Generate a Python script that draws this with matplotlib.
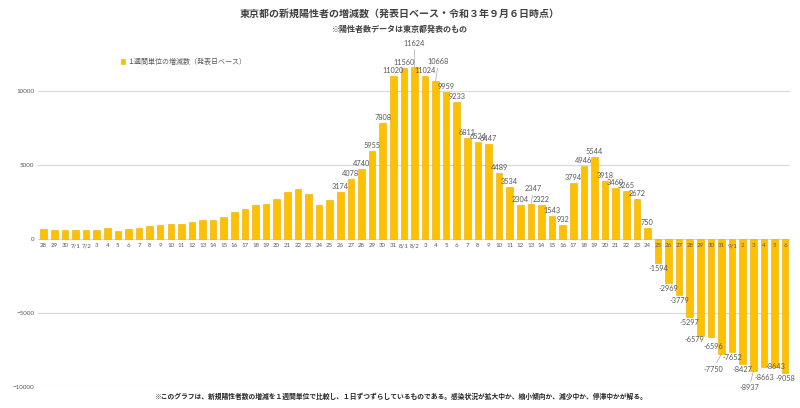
import numpy as np
import matplotlib
matplotlib.use("Agg")
import matplotlib.pyplot as plt

plt.rcParams['font.family'] = ['Lato', 'Noto Sans CJK JP', 'DejaVu Sans']

# day labels on the x axis (6/28 .. 9/6)
days = (["28", "29", "30", "7/1", "7/2"] + [str(d) for d in range(3, 32)]
        + ["8/1", "8/2"] + [str(d) for d in range(3, 32)]
        + ["9/1"] + [str(d) for d in range(2, 7)])

# weekly change of new positive cases (published-date basis)
values = [700, 630, 585, 585, 585, 630, 740, 540, 675, 765,
          880, 945, 1010, 990, 1150, 1260, 1280, 1490, 1800, 2000,
          2300, 2360, 2680, 3150, 3400, 3020, 2280, 2660, 3174, 4078,
          4740, 5955, 7808, 11020, 11560, 11624, 11024, 10668, 9959, 9233,
          6811, 6524, 6447, 4489, 3534, 2304, 2347, 2322, 1543, 932,
          3794, 4946, 5544, 3918, 3460, 3265, 2672, 750, -1594, -2969,
          -3779, -5297, -6579, -6596, -7750, -7652, -8427, -8937, -8663, -8643,
          -9058]
first_labeled = 28  # value labels start at 7/26
yticks = [-10000, -5000, 0, 5000, 10000]

title = "東京都の新規陽性者の増減数（発表日ベース・令和３年９月６日時点）"
subtitle = "※陽性者数データは東京都発表のもの"
series_name = "１週間単位の増減数（発表日ベース）"
footnote = ("※このグラフは、新規陽性者数の増減を１週間単位で比較し、１日ずつずらしているものである。"
            "感染状況が拡大中か、縮小傾向か、減少中か、停滞中かが解る。")

bar_color = "#FFC000"
text_color = "#595959"
cjk = ['Noto Sans CJK JP', 'DejaVu Sans']

fig = plt.figure(figsize=(8, 4.08), dpi=100)
ax = fig.add_axes([0.048, 0.0515, 0.94, 0.816])

# gridlines drawn by hand so the axis (tick labels) stays above the bars
for yv in yticks:
    ax.axhline(yv, color="#D9D9D9", linewidth=0.8, zorder=0)

x = np.arange(len(values))
bars = ax.bar(x, values, width=0.62, color=bar_color, edgecolor="#E8AE00",
              linewidth=0.4, label=series_name, zorder=1)

ax.set_xlim(-0.5, len(values) - 0.5)
ax.set_ylim(-10000, 12500)
ax.set_yticks(yticks)
for s in ax.spines.values():
    s.set_visible(False)
ax.spines['bottom'].set_position(('data', 0))
ax.set_xticks(x)
ax.set_xticklabels(days, fontsize=4.4, color=text_color)
ax.tick_params(axis='both', length=0)
ax.tick_params(axis='x', pad=3)
ax.tick_params(axis='y', labelsize=4.5, labelcolor=text_color, pad=3)

# value labels; a few are moved (some with a leader line) like in the original
leader = {35: (0, 13), 37: (2, 10), 46: (2, 7), 64: (-6, -7), 67: (-3, -8)}
shift = {62: (-4, 1.5), 63: (2, -3), 68: (0, -3.5), 69: (1, 4)}
for i in range(first_labeled, len(values)):
    v = values[i]
    dx, dy = leader.get(i, shift.get(i, (0, 0)))
    base = 1.5 if v > 0 else -1.5
    kw = {}
    if i in leader:
        kw['arrowprops'] = dict(arrowstyle='-', color="#A6A6A6", lw=0.5,
                                shrinkA=0, shrinkB=0)
    ax.annotate(str(v), xy=(i, v), xytext=(dx, base + dy),
                textcoords='offset points', ha='center',
                va='bottom' if v > 0 else 'top', fontsize=5.3,
                color=text_color, annotation_clip=False, zorder=6, **kw)

fig.text(0.5, 0.965, title, ha='center', va='center', fontsize=7.2,
         fontweight='bold', color="#404040", family=cjk)
fig.text(0.5, 0.928, subtitle, ha='center', va='center', fontsize=5.8,
         fontweight='bold', color="#404040", family=cjk)
fig.text(0.5, 0.028, footnote, ha='center', va='center', fontsize=4.9,
         fontweight='bold', color="#262626", family=cjk)

leg = fig.legend(handles=[bars], labels=[series_name], loc='center left',
                 bbox_to_anchor=(0.143, 0.848), frameon=False,
                 handlelength=0.6, handleheight=0.6, handletextpad=0.4,
                 prop={'family': cjk, 'size': 5})
for t in leg.get_texts():
    t.set_color(text_color)

fig.savefig("out.png", dpi=100)
